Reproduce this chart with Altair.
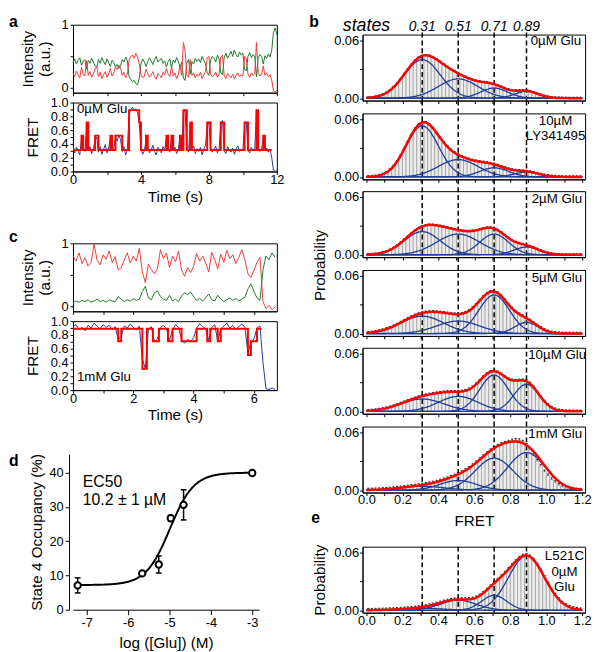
import altair as alt
import pandas as pd

FONT = "Liberation Sans"
GREEN = "#1c7a2c"
RED_TRACE = "#f03a3a"
BLUE = "#1e3c9c"
RED = "#ff0000"

# ---------------- panel a : 0 uM Glu trace, sampled every 0.1 s (values x100) ----------------
A_DT = 0.1
A_GREEN = [40, 46, 38, 44, 48, 36, 42, 45, 30, 44,
           39, 47, 41, 35, 33, 45, 39, 48, 42, 37,
           46, 40, 34, 44, 40, 33, 37, 31, 35, 45,
           41, 49, 43, 18, 14, 10, 12, 7, 5, 15,
           38, 46, 41, 34, 42, 48, 43, 37, 45, 50,
           41, 44, 47, 39, 43, 33, 42, 46, 32, 44,
           40, 48, 42, 33, 41, 16, 12, 40, 45, 22,
           42, 38, 47, 42, 46, 40, 50, 44, 39, 24,
           20, 44, 50, 47, 41, 52, 46, 25, 21, 48,
           55, 47, 52, 58, 50, 60, 53, 49, 57, 52,
           55, 30, 27, 50, 56, 48, 53, 49, 18, 47,
           53, 50, 38, 51, 47, 54, 49, 60, 88, 95,
           84]
A_RED = [24, 18, 27, 21, 16, 33, 22, 19, 43, 20,
         26, 17, 23, 30, 34, 18, 25, 15, 21, 26,
         17, 22, 31, 19, 24, 33, 29, 36, 31, 20,
         25, 16, 22, 44, 50, 52, 47, 55, 49, 38,
         21, 16, 19, 30, 23, 17, 20, 26, 18, 14,
         23, 20, 16, 25, 21, 31, 22, 18, 34, 19,
         24, 15, 21, 35, 20, 72, 58, 21, 17, 45,
         20, 24, 16, 22, 19, 25, 15, 21, 26, 48,
         50, 22, 18, 20, 25, 17, 21, 49, 52, 20,
         15, 23, 19, 16, 22, 14, 20, 24, 18, 21,
         19, 50, 47, 22, 17, 24, 20, 23, 72, 25,
         19, 22, 35, 20, 24, 18, 21, 12, -4, -6,
         -3]
A_FRET = [38, 27, 35, 30, 24, 47, 33, 29, 62, 30,
          36, 26, 33, 45, 50, 28, 36, 25, 32, 39,
          27, 34, 48, 30, 35, 50, 44, 53, 46, 29,
          36, 24, 33, 82, 90, 93, 88, 91, 85, 70,
          33, 25, 30, 45, 34, 27, 31, 38, 29, 24,
          35, 30, 27, 36, 31, 47, 32, 28, 49, 30,
          35, 26, 33, 50, 32, 84, 90, 33, 28, 68,
          31, 37, 26, 33, 29, 35, 24, 32, 38, 66,
          71, 34, 28, 31, 37, 27, 33, 70, 74, 30,
          26, 36, 31, 28, 34, 25, 33, 37, 29, 32,
          30, 69, 72, 31, 27, 35, 30, 33, 88, 35,
          29, 32, 48, 30, 34, 28, 32, 20, 2, 0,
          1]
A_STEP_T = [0, 0.5, 0.6, 0.8, 0.9, 1.3, 1.5, 2.2, 2.3, 2.5, 2.9, 3.3, 3.9, 4.0, 4.3,
            4.4, 5.5, 5.6, 5.8, 5.9, 6.3, 6.4, 6.5, 6.7, 6.9, 7.0, 7.9, 8.1, 8.7, 8.9,
            10.1, 10.3, 10.8, 10.9, 11.2, 11.3, 11.7]
A_STEP_V = [0.31, 0.52, 0.31, 0.71, 0.31, 0.52, 0.31, 0.52, 0.31, 0.52, 0.31, 0.89, 0.71, 0.31, 0.52,
            0.31, 0.52, 0.31, 0.52, 0.31, 0.52, 0.31, 0.89, 0.31, 0.71, 0.31, 0.71, 0.31, 0.71, 0.31,
            0.71, 0.31, 0.89, 0.31, 0.52, 0.31, 0.31]

# ---------------- panel c : 1 mM Glu trace, sampled every 0.1 s (values x100) ----------------
C_DT = 0.1
C_GREEN = [6, 9, 7, 10, 8, 11, 7, 9, 12, 8,
           10, 7, 11, 9, 8, 16, 12, 8, 11, 9,
           13, 10, 12, 24, 32, 14, 11, 22, 25, 16,
           12, 10, 18, 9, 12, 8, 17, 22, 19, 23,
           16, 10, 13, 9, 14, 20, 11, 9, 18, 12,
           8, 11, 14, 10, 13, 9, 12, 15, 28, 36,
           24, 14, 10, 58, 80, 74, 85, 78]
C_RED = [80, 72, 85, 68, 77, 64, 70, 99, 73, 66,
         82, 75, 88, 70, 79, 58, 62, 74, 85, 69,
         80, 72, 92, 55, 38, 67, 58, 52, 60, 90,
         76, 85, 62, 80, 71, 88, 58, 48, 62, 54,
         64, 84, 72, 80, 69, 55, 86, 74, 60, 83,
         70, 89, 76, 82, 68, 78, 90, 74, 52, 46,
         58, 70, 78, 8, -3, 2, -5, 0]
C_FRET = [92, 95, 88, 91, 86, 94, 90, 97, 93, 89,
          95, 91, 94, 88, 92, 73, 78, 93, 90, 96,
          91, 87, 93, 45, 31, 88, 92, 70, 74, 91,
          94, 89, 72, 87, 95, 91, 73, 68, 74, 70,
          76, 90, 96, 92, 89, 72, 91, 95, 71, 88,
          93, 97, 90, 94, 88, 92, 96, 91, 54, 70,
          74, 90, 93, 40, 2, 1, 3, 1]
C_STEP_T = [0, 1.5, 1.6, 2.3, 2.45, 2.65, 2.85, 3.15, 3.3, 3.6, 4.1, 4.45, 4.55, 4.8, 4.9,
            5.8, 5.9, 6.1, 6.25]
C_STEP_V = [0.89, 0.71, 0.89, 0.31, 0.89, 0.71, 0.89, 0.71, 0.89, 0.71, 0.89, 0.71, 0.89, 0.71, 0.89,
            0.51, 0.71, 0.89, 0.89]

# ---------------- panels b, e : FRET histograms (bins of 0.02, probability x1000) ----------------
STATES = [0.31, 0.51, 0.71, 0.89]
BIN_W = 0.02
HIST = {
    "b1": [0.4, 0.8, 1.4, 2.2, 3.6, 5.4, 8.0, 11.2, 15.2, 19.8, 24.8, 29.8, 34.6, 38.8, 41.9,
           43.8, 44.4, 43.9, 42.3, 40.1, 37.5, 34.8, 32.3, 29.9, 27.8, 25.7, 23.8, 22.0, 20.4, 19.1,
           18.0, 17.2, 16.6, 16.1, 15.4, 14.5, 13.2, 11.7, 10.1, 8.9, 8.1, 7.8, 7.8, 7.9, 7.6,
           7.0, 5.9, 4.6, 3.3, 2.1, 1.3, 0.7, 0.3, 0.2, 0.1, 0.1, 0, 0, 0, 0],
    "b2": [0.2, 0.4, 0.8, 1.5, 2.7, 4.5, 7.3, 11.0, 16.0, 22.1, 29.0, 36.4, 43.6, 49.7, 54.1,
           56.5, 56.4, 54.2, 50.5, 45.6, 40.5, 35.6, 31.4, 27.8, 25.1, 22.9, 21.1, 19.6, 18.4, 17.3,
           16.5, 15.8, 15.3, 14.6, 14.0, 13.2, 12.0, 10.8, 9.5, 8.3, 7.4, 6.8, 6.5, 6.2, 5.8,
           5.2, 4.5, 3.6, 2.6, 1.8, 1.2, 0.7, 0.4, 0.2, 0.1, 0, 0, 0, 0, 0],
    "b3": [0.3, 0.5, 0.8, 1.4, 2.2, 3.3, 4.9, 6.9, 9.4, 12.3, 15.6, 18.8, 22.1, 25.1, 27.5,
           29.4, 30.5, 31.0, 30.9, 30.5, 29.8, 29.0, 28.1, 27.2, 26.4, 25.7, 25.1, 24.5, 24.5, 24.7,
           25.3, 26.4, 27.2, 27.9, 27.9, 27.2, 25.4, 23.0, 20.1, 17.4, 15.0, 13.1, 11.8, 10.8, 9.9,
           8.7, 7.3, 5.7, 4.3, 2.9, 1.8, 1.1, 0.6, 0.3, 0.1, 0.1, 0, 0, 0, 0],
    "b4": [0.8, 1.2, 1.7, 2.5, 3.4, 4.6, 5.9, 7.5, 9.3, 11.3, 13.3, 15.3, 17.2, 18.8, 20.1,
           21.2, 21.9, 22.3, 22.5, 22.3, 22.0, 21.5, 21.0, 20.5, 20.1, 20.0, 20.4, 21.5, 23.5, 26.4,
           30.0, 34.1, 38.1, 41.3, 43.3, 43.6, 41.9, 38.7, 34.6, 30.1, 26.0, 22.7, 20.0, 17.9, 15.7,
           13.5, 10.9, 8.3, 5.8, 3.7, 2.2, 1.1, 0.6, 0.3, 0.1, 0, 0, 0, 0, 0],
    "b5": [0.6, 0.8, 1.2, 1.7, 2.4, 3.2, 4.2, 5.3, 6.6, 8.0, 9.4, 10.9, 12.3, 13.5, 14.7,
           15.8, 16.7, 17.5, 18.2, 18.8, 19.4, 19.8, 20.1, 20.2, 20.3, 20.3, 20.6, 21.3, 22.7, 24.9,
           28.1, 31.8, 35.6, 38.9, 41.0, 41.6, 40.5, 38.4, 35.9, 33.5, 32.2, 31.8, 32.1, 32.2, 31.1,
           28.7, 24.8, 19.8, 14.8, 10.2, 6.5, 3.8, 2.1, 1.0, 0.5, 0.2, 0.1, 0, 0, 0],
    "b6": [0.2, 0.3, 0.4, 0.5, 0.8, 1.0, 1.3, 1.7, 2.1, 2.5, 2.9, 3.4, 3.9, 4.3, 4.8,
           5.4, 6.0, 6.7, 7.5, 8.4, 9.5, 10.7, 11.9, 13.3, 14.8, 16.5, 18.2, 20.4, 22.7, 25.5,
           28.5, 31.6, 34.9, 38.0, 41.0, 43.6, 45.7, 47.5, 48.8, 50.0, 51.2, 51.8, 51.5, 50.0, 46.5,
           42.0, 36.5, 30.0, 25.0, 19.0, 15.0, 11.0, 8.0, 5.0, 3.5, 2.0, 1.0, 0.5, 0.2, 0.1],
    "e": [0.1, 0.1, 0.2, 0.3, 0.4, 0.5, 0.7, 0.8, 1.0, 1.3, 1.5, 1.8, 2.1, 2.5, 2.9,
          3.4, 4.0, 4.8, 5.7, 6.7, 7.7, 8.8, 9.7, 10.5, 11.0, 11.2, 11.2, 11.2, 11.3, 11.9,
          13.1, 15.1, 17.8, 21.1, 24.6, 28.1, 31.5, 35.0, 38.6, 42.5, 46.6, 50.7, 54.2, 56.4, 57.0,
          55.6, 52.2, 47.1, 40.9, 34.2, 27.5, 21.2, 15.7, 11.2, 7.6, 5.0, 3.2, 1.9, 1.1, 0.6],
}
# Gaussian fit components at the four states (amplitude x1000, sigma)
GAUSS_AMP = {
    "b1": [40, 20, 10.5, 7], "b2": [53, 18, 9.5, 5], "b3": [24, 21.5, 21.5, 8],
    "b4": [18, 13, 40, 11.5], "b5": [12.8, 15.5, 37.6, 28.1], "b6": [4, 10, 33.2, 39],
    "e": [2, 10.4, 15.5, 56.4],
}
GAUSS_SIG = {
    "b1": [0.10, 0.11, 0.075, 0.065], "b2": [0.09, 0.11, 0.08, 0.07], "b3": [0.10, 0.12, 0.08, 0.07],
    "b4": [0.12, 0.12, 0.085, 0.065], "b5": [0.12, 0.11, 0.08, 0.07], "b6": [0.12, 0.10, 0.105, 0.105],
    "e": [0.12, 0.10, 0.07, 0.10],
}
ERR = {"b1": 1.0, "b2": 1.2, "b3": 1.0, "b4": 1.4, "b5": 1.4, "b6": 1.8, "e": 1.8}
PANEL_TEXT = {
    "b1": ["0µM Glu"], "b2": ["10µM", "LY341495"], "b3": ["2µM Glu"], "b4": ["5µM Glu"],
    "b5": ["10µM Glu"], "b6": ["1mM Glu"], "e": ["L521C", "0µM", "Glu"],
}

# ---------------- panel d : dose response ----------------
LOG_GLU = [-7.22, -5.66, -5.26, -4.97, -4.66, -3.0]
OCC = [7.1, 10.6, 13.2, 26.7, 30.6, 39.9]
OCC_ERR = [2.2, 0.6, 2.5, 0.8, 4.4, 0.6]
FIT_BOTTOM, FIT_TOP, FIT_LOGEC50, FIT_HILL = 7.2, 40.0, -4.99, 1.5

AX_STYLE = dict(labelFont=FONT, titleFont=FONT, labelFontSize=13, titleFontSize=15.5,
                titleFontWeight="normal", labelColor="black", titleColor="black",
                domainColor="black", tickColor="black", grid=False, labelFlush=False,
                labelOverlap=False, domainWidth=1, tickWidth=1)


def axis(**kw):
    d = dict(AX_STYLE)
    d.update(kw)
    return alt.Axis(**d)


def frame():
    return alt.ViewBackground(stroke="black", strokeWidth=1)


def text_layer(txt, x, y, size=13.5, align="left", baseline="middle", weight="normal", style="normal"):
    return alt.Chart(pd.DataFrame({"txt": [txt]})).mark_text(
        align=align, baseline=baseline, fontSize=size, fontWeight=weight, fontStyle=style,
        color="black", font=FONT
    ).encode(x=alt.value(x), y=alt.value(y), text="txt:N")


def spacer(h):
    return alt.Chart(pd.DataFrame({"z": [0]})).mark_point(opacity=0).encode(
        x=alt.value(0), y=alt.value(0)).properties(width=1, height=h)


def intensity_panel(dt, green, red, xmax, xstep, letter, letter_y):
    t = [round(i * dt, 2) for i in range(len(green))]
    df = pd.DataFrame({"t": t, "g": [v / 100 for v in green], "r": [v / 100 for v in red]})
    xs = alt.Scale(domain=[0, xmax], nice=False, zero=False)
    ys = alt.Scale(domain=[-0.073, 1.0], nice=False, zero=False)
    xticks = [round(i * xstep, 2) for i in range(int(xmax / xstep) + 1)]
    xax = axis(values=xticks, labels=False, title=None, tickSize=3)
    yax = axis(values=[0, 0.5, 1], labelExpr="datum.value == 0.5 ? '' : '' + datum.value",
               title=["Intensity", "(a.u.)"], titleX=-41, titleBaseline="alphabetic",
               titleLineHeight=17, tickSize=3, labelPadding=2)
    g = alt.Chart(df).mark_line(color=GREEN, strokeWidth=1).encode(
        x=alt.X("t:Q", scale=xs, axis=xax), y=alt.Y("g:Q", scale=ys, axis=yax))
    r = alt.Chart(df).mark_line(color=RED_TRACE, strokeWidth=1).encode(
        x=alt.X("t:Q", scale=xs, axis=xax), y=alt.Y("r:Q", scale=ys, axis=yax))
    lt = text_layer(letter, -65, letter_y, 16, baseline="alphabetic", weight="bold")
    return alt.layer(g, r, lt).properties(width=207, height=69, view=frame())


def fret_panel(dt, fret, st_t, st_v, xmax, xstep, label_every, label, label_y, lab_base, title_base):
    t = [round(i * dt, 2) for i in range(len(fret))]
    df = pd.DataFrame({"t": t, "f": [v / 100 for v in fret]})
    steps = pd.DataFrame({"t": st_t, "v": st_v})
    xs = alt.Scale(domain=[0, xmax], nice=False, zero=False)
    ys = alt.Scale(domain=[0, 1], nice=False, zero=False)
    xticks = [round(i * xstep, 2) for i in range(int(xmax / xstep) + 1)]
    xax = axis(values=xticks, labelExpr=f"datum.value % {label_every} == 0 ? '' + datum.value : ''",
               title="Time (s)", titleY=title_base, titleBaseline="alphabetic", tickSize=3,
               labelBaseline="alphabetic", labelPadding=lab_base - 3)
    yax = axis(values=[round(i * 0.1, 1) for i in range(11)],
               labelExpr="round(datum.value*10) % 2 == 0 ? format(datum.value, '.1f') : ''",
               title="FRET", titleX=-36, titleBaseline="alphabetic", tickSize=3, labelPadding=2)
    blue = alt.Chart(df).mark_line(color=BLUE, strokeWidth=1).encode(
        x=alt.X("t:Q", scale=xs, axis=xax), y=alt.Y("f:Q", scale=ys, axis=yax))
    ideal = alt.Chart(steps).mark_line(color=RED, strokeWidth=2, interpolate="step-after").encode(
        x=alt.X("t:Q", scale=xs, axis=xax), y=alt.Y("v:Q", scale=ys, axis=yax))
    return alt.layer(blue, ideal, text_layer(label, 4, label_y)).properties(width=207, height=70, view=frame())


X_B = alt.Scale(domain=[-0.022, 1.216], nice=False, zero=False)
Y_B = alt.Scale(domain=[-0.0025, 0.066], nice=False, zero=False)
B_W, B_H = 226, 67


def hist_panel(key, show_x, rule_top, text_align, text_x, text_ys, ytitle=None, ytitle_y=None,
               letter=None, lab_base=11, title_base=33):
    vals = HIST[key]
    centers = [round(0.01 + BIN_W * k, 2) for k in range(len(vals))]
    df = pd.DataFrame({"c": centers, "p": [v / 1000 for v in vals]})
    df["x0"] = df["c"] - BIN_W / 2
    df["x1"] = df["c"] + BIN_W / 2
    df["top"] = df["p"] + ERR[key] / 1000
    df["cl"] = df["c"] - 0.006
    df["cr"] = df["c"] + 0.006

    xkw = dict(values=[round(i * 0.1, 1) for i in range(13)], tickSize=3)
    if show_x:
        xkw.update(labelExpr="round(datum.value*10) % 2 == 0 ? format(datum.value, '.1f') : ''",
                   title="FRET", titleY=title_base, titleBaseline="alphabetic",
                   labelBaseline="alphabetic", labelPadding=lab_base - 3)
    else:
        xkw.update(labels=False, title=None)
    ykw = dict(values=[0, 0.03, 0.06],
               labelExpr="datum.value == 0.03 ? '' : format(datum.value, '.2f')",
               tickSize=3, labelPadding=1)
    if ytitle:
        ykw.update(title=ytitle, titleX=-39, titleBaseline="alphabetic")
        if ytitle_y is not None:
            ykw["titleY"] = ytitle_y
    else:
        ykw["title"] = None
    xax = axis(**xkw)
    yax = axis(**ykw)

    bars = alt.Chart(df).mark_bar(fill="#ededed", stroke="#8c8c8c", strokeWidth=0.6).encode(
        x=alt.X("x0:Q", scale=X_B, axis=xax), x2="x1:Q",
        y=alt.Y("p:Q", scale=Y_B, axis=yax), y2=alt.datum(0))
    err = alt.Chart(df).mark_rule(color="black", strokeWidth=0.7).encode(
        x=alt.X("c:Q", scale=X_B, axis=xax), y=alt.Y("p:Q", scale=Y_B, axis=yax), y2="top:Q")
    caps = alt.Chart(df).mark_rule(color="black", strokeWidth=0.8).encode(
        x=alt.X("cl:Q", scale=X_B, axis=xax), x2="cr:Q", y=alt.Y("top:Q", scale=Y_B, axis=yax))
    rules = alt.Chart(pd.DataFrame({"s": STATES})).mark_rule(
        color="black", strokeWidth=1.5, strokeDash=[5, 3]).encode(
        x=alt.X("s:Q", scale=X_B, axis=xax), y=alt.value(rule_top), y2=alt.value(B_H))

    amps, sigs = GAUSS_AMP[key], GAUSS_SIG[key]
    calc = {f"g{i + 1}": f"{amps[i] / 1000}*exp(-pow(datum.fx-{STATES[i]},2)/(2*{sigs[i]}*{sigs[i]}))"
            for i in range(4)}
    seq = alt.sequence(0, 1.2001, 0.004, as_="fx")
    comps = alt.Chart(seq).transform_calculate(**calc).transform_fold(
        ["g1", "g2", "g3", "g4"], as_=["comp", "val"]).mark_line(color=BLUE, strokeWidth=1.3).encode(
        x=alt.X("fx:Q", scale=X_B, axis=xax), y=alt.Y("val:Q", scale=Y_B, axis=yax), detail="comp:N")
    total = alt.Chart(seq).transform_calculate(**calc).transform_calculate(
        total="datum.g1 + datum.g2 + datum.g3 + datum.g4").mark_line(color=RED, strokeWidth=2.5).encode(
        x=alt.X("fx:Q", scale=X_B, axis=xax), y=alt.Y("total:Q", scale=Y_B, axis=yax))

    layers = [bars, err, caps, rules, comps, total]
    for line, yy in zip(PANEL_TEXT[key], text_ys):
        layers.append(text_layer(line, text_x, yy, 13.5, align=text_align))
    if letter:
        layers.append(text_layer(letter[0], letter[1], letter[2], 16, baseline="alphabetic", weight="bold"))
    return alt.layer(*layers).properties(width=B_W, height=B_H, view=frame())


def header_panel():
    nums = alt.Chart(pd.DataFrame({"s": STATES})).mark_text(
        fontSize=14, fontStyle="italic", baseline="alphabetic", color="black", font=FONT).encode(
        x=alt.X("s:Q", scale=X_B, axis=None), y=alt.value(6), text=alt.Text("s:Q", format=".2f"))
    word = text_layer("states", 4, 6, 18, align="center", baseline="alphabetic", style="italic")
    letter = text_layer("b", -54, 2, 16, baseline="alphabetic", weight="bold")
    return alt.layer(nums, word, letter).properties(width=B_W, height=10)


def dose_panel():
    xs = alt.Scale(domain=[-7.333, -2.833], nice=False, zero=False)
    ys = alt.Scale(domain=[0, 45.4], nice=False, zero=False)
    df = pd.DataFrame({"lg": LOG_GLU, "occ": OCC, "err": OCC_ERR})
    df["lo"] = df["occ"] - df["err"]
    df["hi"] = df["occ"] + df["err"]
    df["cl"] = df["lg"] - 0.07
    df["cr"] = df["lg"] + 0.07
    xax = axis(values=[-7, -6, -5, -4, -3], labelExpr="'' + datum.value", title="log ([Glu]) (M)",
               titleY=38.5, titleBaseline="alphabetic", tickSize=5, labelPadding=2)
    yax = axis(values=[0, 10, 20, 30, 40], labelExpr="'' + datum.value", title="State 4 Occupancy (%)",
               titleX=-28, titleBaseline="alphabetic", tickSize=4, labelPadding=2, offset=4)
    expr = (f"{FIT_BOTTOM} + ({FIT_TOP} - {FIT_BOTTOM}) / "
            f"(1 + pow(10, {FIT_HILL} * ({FIT_LOGEC50} - datum.lg)))")
    fit = alt.Chart(alt.sequence(-7.22, -2.999, 0.02, as_="lg")).transform_calculate(
        occ=expr).mark_line(color="black", strokeWidth=2).encode(
        x=alt.X("lg:Q", scale=xs, axis=xax), y=alt.Y("occ:Q", scale=ys, axis=yax))
    bars = alt.Chart(df).mark_rule(color="black", strokeWidth=1.5).encode(
        x=alt.X("lg:Q", scale=xs, axis=xax), y=alt.Y("lo:Q", scale=ys, axis=yax), y2="hi:Q")
    cap_hi = alt.Chart(df).mark_rule(color="black", strokeWidth=1.5).encode(
        x=alt.X("cl:Q", scale=xs, axis=xax), x2="cr:Q", y=alt.Y("hi:Q", scale=ys, axis=yax))
    cap_lo = alt.Chart(df).mark_rule(color="black", strokeWidth=1.5).encode(
        x=alt.X("cl:Q", scale=xs, axis=xax), x2="cr:Q", y=alt.Y("lo:Q", scale=ys, axis=yax))
    pts = alt.Chart(df).mark_point(shape="circle", filled=True, fill="white", stroke="black",
                                   strokeWidth=2, size=42, opacity=1).encode(
        x=alt.X("lg:Q", scale=xs, axis=xax), y=alt.Y("occ:Q", scale=ys, axis=yax))
    t1 = text_layer("EC50", 10, 33, 16, baseline="alphabetic")
    t2 = text_layer("10.2 ± 1 µM", 10, 52, 16, baseline="alphabetic")
    lt = text_layer("d", -65, 12, 16, baseline="alphabetic", weight="bold")
    return alt.layer(fit, bars, cap_hi, cap_lo, pts, t1, t2, lt).properties(width=189, height=158)


a1 = intensity_panel(A_DT, A_GREEN, A_RED, 12, 2, "a", 2)
a2 = fret_panel(A_DT, A_FRET, A_STEP_T, A_STEP_V, 12, 2, 4, "0µM Glu", 7, 12, 31)
c1 = intensity_panel(C_DT, C_GREEN, C_RED, 6.76, 1, "c", -1)
c2 = fret_panel(C_DT, C_FRET, C_STEP_T, C_STEP_V, 6.76, 1, 2, "1mM Glu", 57, 13, 30)
d = dose_panel()

b1 = hist_panel("b1", False, -2, "right", 222, [7])
b2 = hist_panel("b2", False, -13, "center", 196, [8, 23])
b3 = hist_panel("b3", False, -12, "right", 223, [8.5], ytitle="Probability", ytitle_y=75)
b4 = hist_panel("b4", False, -13, "right", 223, [8])
b5 = hist_panel("b5", False, -12, "right", 227, [7.5])
b6 = hist_panel("b6", True, -13, "right", 223, [8], lab_base=11, title_base=33)
e = hist_panel("e", True, 0, "center", 205, [9.5, 26, 40.5], ytitle="Probability",
               letter=("e", -52, -24), lab_base=12, title_base=32)

left = alt.vconcat(a1, spacer(10), a2, spacer(73), c1, spacer(10), c2, spacer(65), d,
                   spacing=0, bounds="flush")
right = alt.vconcat(header_panel(), b1, spacer(13), b2, spacer(12), b3, spacer(13), b4, spacer(12),
                    b5, spacer(13), b6, spacer(55), e, spacing=0, bounds="flush")

chart = alt.hconcat(left, right, spacing=294, bounds="flush").properties(padding=0).configure(
    font=FONT
).configure_view(stroke=None)

chart.save("out.html", embed_options={"renderer": "svg", "actions": False})
